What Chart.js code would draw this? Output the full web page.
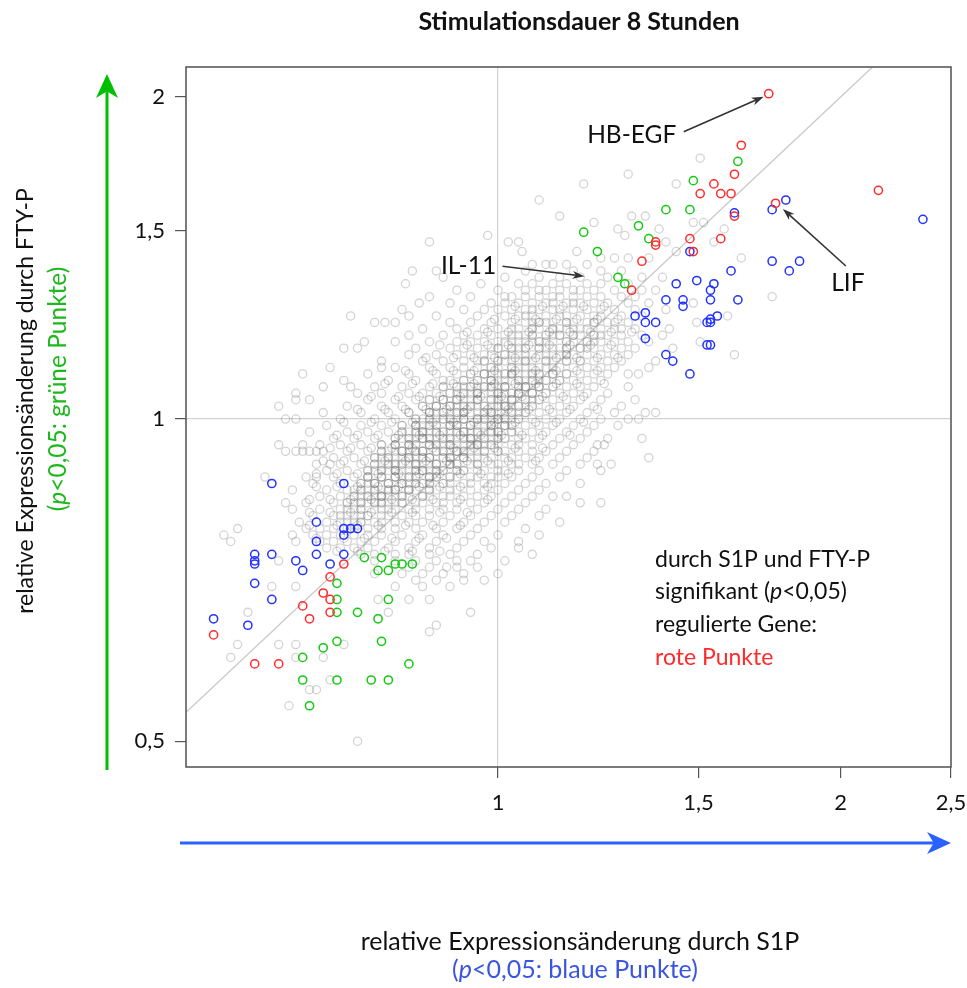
<!DOCTYPE html>
<html>
<head>
<meta charset="utf-8">
<script src="https://cdn.jsdelivr.net/npm/chart.js@4.4.0/dist/chart.umd.min.js"></script>
<style>
  html, body { margin: 0; padding: 0; background: #fff; }
</style>
</head>
<body>
<canvas id="plot" width="967" height="988"></canvas>
<script>
'use strict';

// all values are log2 ratios
var xTicks = [1, 1.5, 2, 2.5];
var yTicks = [0.5, 1, 1.5, 2];
var identityLine = [0.45, 2.7];

var redLog2X = [0.79, 0.71, 0.69, 0.63, 0.59, 0.65, 0.68, 1.11, 0.81, 0.69, 0.46, 0.46, 0.56, 0.65, 0.57, 0.42, 0.39,
  -0.45, -0.49, -0.51, -0.49, -0.57, -0.49, -0.55, -0.83, -0.71, -0.64];
var redLog2Y = [1.01, 0.85, 0.76, 0.73, 0.70, 0.70, 0.70, 0.71, 0.67, 0.63, 0.55, 0.54, 0.56, 0.56, 0.52, 0.49, 0.40,
  -0.45, -0.49, -0.54, -0.56, -0.58, -0.60, -0.62, -0.67, -0.76, -0.76];

var greenLog2X = [0.70, 0.57, 0.49, 0.56, 0.41, 0.25, 0.44, 0.29, 0.35, 0.37,
  -0.39, -0.34, -0.35, -0.32, -0.30, -0.28, -0.25, -0.47, -0.47, -0.32, -0.47, -0.41, -0.35, -0.47, -0.51, -0.34,
  -0.57, -0.26, -0.57, -0.47, -0.37, -0.32, -0.55];
var greenLog2Y = [0.80, 0.74, 0.65, 0.65, 0.60, 0.58, 0.56, 0.52, 0.44, 0.42,
  -0.43, -0.43, -0.47, -0.47, -0.45, -0.45, -0.45, -0.51, -0.56, -0.56, -0.60, -0.60, -0.62, -0.69, -0.71, -0.69,
  -0.74, -0.76, -0.81, -0.81, -0.81, -0.81, -0.89];

var blueLog2X = [0.84, 0.80, 1.24, 0.69, 0.56, 0.80, 0.88, 0.85, 0.68, 0.52, 0.58, 0.63, 0.62, 0.49, 0.54, 0.54,
  0.62, 0.70, 0.43, 0.40, 0.43, 0.46, 0.64, 0.62, 0.61, 0.62, 0.43, 0.61, 0.62, 0.49, 0.51, 0.56,
  -0.66, -0.45, -0.53, -0.45, -0.43, -0.41, -0.45, -0.53, -0.71, -0.66, -0.71, -0.71, -0.59, -0.53, -0.45, -0.57,
  -0.49, -0.71, -0.66, -0.83, -0.73];
var blueLog2Y = [0.68, 0.65, 0.62, 0.64, 0.52, 0.49, 0.49, 0.46, 0.46, 0.42, 0.43, 0.42, 0.40, 0.37, 0.37, 0.35,
  0.37, 0.37, 0.33, 0.32, 0.30, 0.30, 0.32, 0.31, 0.30, 0.30, 0.25, 0.23, 0.23, 0.20, 0.18, 0.14,
  -0.20, -0.20, -0.32, -0.34, -0.34, -0.34, -0.36, -0.38, -0.42, -0.42, -0.44, -0.45, -0.44, -0.42, -0.42, -0.47,
  -0.45, -0.51, -0.56, -0.62, -0.64];

// grey genes (not significant), one row per log2 y level
var greyRowY = [0.81, 0.76, 0.73, 0.68, 0.63, 0.61, 0.59, 0.57, 0.55, 0.52, 0.50, 0.48, 0.46, 0.44, 0.42, 0.40,
  0.38, 0.36, 0.34, 0.32, 0.30, 0.28, 0.26, 0.24, 0.22, 0.20, 0.18, 0.16, 0.14, 0.12, 0.10, 0.08, 0.06, 0.04,
  0.02, 0.00, -0.02, -0.04, -0.06, -0.08, -0.10, -0.12, -0.14, -0.16, -0.18, -0.20, -0.22, -0.24, -0.26, -0.28,
  -0.30, -0.32, -0.34, -0.36, -0.38, -0.40, -0.42, -0.44, -0.46, -0.48, -0.50, -0.52, -0.56, -0.60, -0.64, -0.66,
  -0.70, -0.74, -0.81, -0.84, -0.89, -1.00];
var greyRowX = [
  [0.59],
  [0.38],
  [0.25, 0.52],
  [0.12],
  [0.18, 0.39, 0.43],
  [0.28, 0.57, 0.60],
  [0.35, 0.47, 0.66],
  [-0.03, 0.37],
  [-0.20, 0.03, 0.06, 0.49, 0.63],
  [0.07, 0.23, 0.52],
  [0.30, 0.34, 0.38, 0.44, 0.71],
  [0.10, 0.14, 0.16, 0.20, 0.26],
  [-0.25, -0.18, 0.08, 0.22, 0.30, 0.36],
  [-0.16, 0.02, 0.12, 0.18, 0.24, 0.32, 0.42, 0.48],
  [-0.27, -0.05, 0.06, 0.10, 0.16, 0.20, 0.26, 0.30, 0.38, 0.63],
  [-0.12, 0.00, 0.08, 0.12, 0.14, 0.18, 0.22, 0.24, 0.28, 0.34, 0.42, 0.46],
  [-0.20, -0.08, 0.02, 0.04, 0.08, 0.12, 0.16, 0.18, 0.22, 0.26, 0.30, 0.36, 0.40, 0.80],
  [-0.23, -0.14, -0.02, 0.02, 0.06, 0.10, 0.14, 0.16, 0.20, 0.22, 0.24, 0.28, 0.32, 0.38, 0.44, 0.57],
  [-0.28, -0.10, -0.04, 0.00, 0.04, 0.08, 0.10, 0.12, 0.16, 0.18, 0.22, 0.26, 0.30, 0.34, 0.40, 0.49],
  [-0.43, -0.26, -0.18, -0.06, 0.02, 0.06, 0.08, 0.10, 0.14, 0.18, 0.20, 0.24, 0.28, 0.30, 0.36, 0.42, 0.67],
  [-0.36, -0.33, -0.30, -0.14, -0.08, -0.02, 0.04, 0.08, 0.10, 0.12, 0.14, 0.16, 0.20, 0.22, 0.26, 0.28, 0.32, 0.34, 0.38, 0.46, 0.58],
  [-0.22, -0.12, -0.04, 0.00, 0.04, 0.06, 0.10, 0.12, 0.16, 0.18, 0.20, 0.24, 0.26, 0.30, 0.34, 0.36, 0.40, 0.50],
  [-0.26, -0.16, -0.10, -0.06, -0.02, 0.02, 0.06, 0.08, 0.10, 0.14, 0.16, 0.18, 0.22, 0.24, 0.28, 0.30, 0.32, 0.36, 0.42, 0.48],
  [-0.39, -0.30, -0.20, -0.12, -0.08, -0.04, 0.00, 0.02, 0.04, 0.08, 0.10, 0.12, 0.14, 0.16, 0.20, 0.22, 0.26, 0.28, 0.30, 0.34, 0.38, 0.44, 0.59],
  [-0.45, -0.41, -0.24, -0.14, -0.10, -0.06, -0.02, 0.00, 0.04, 0.06, 0.08, 0.12, 0.14, 0.18, 0.20, 0.24, 0.26, 0.28, 0.32, 0.36, 0.40, 0.51],
  [-0.26, -0.18, -0.12, -0.08, -0.04, -0.02, 0.02, 0.04, 0.06, 0.10, 0.12, 0.16, 0.18, 0.20, 0.22, 0.26, 0.30, 0.34, 0.38, 0.69],
  [-0.34, -0.22, -0.16, -0.10, -0.06, -0.04, 0.00, 0.02, 0.06, 0.08, 0.10, 0.14, 0.16, 0.20, 0.24, 0.28, 0.32, 0.36, 0.46],
  [-0.49, -0.34, -0.30, -0.20, -0.14, -0.10, -0.06, -0.02, 0.00, 0.04, 0.06, 0.08, 0.12, 0.14, 0.18, 0.22, 0.26, 0.30, 0.34, 0.44],
  [-0.57, -0.38, -0.26, -0.18, -0.12, -0.08, -0.04, -0.02, 0.02, 0.04, 0.06, 0.10, 0.12, 0.16, 0.20, 0.24, 0.28, 0.32, 0.38, 0.41],
  [-0.45, -0.32, -0.24, -0.16, -0.14, -0.10, -0.06, -0.02, 0.00, 0.04, 0.08, 0.10, 0.14, 0.18, 0.22, 0.26, 0.30],
  [-0.51, -0.43, -0.36, -0.28, -0.20, -0.16, -0.12, -0.08, -0.04, -0.02, 0.02, 0.06, 0.08, 0.12, 0.16, 0.20, 0.24, 0.28, 0.38],
  [-0.59, -0.41, -0.34, -0.26, -0.22, -0.18, -0.14, -0.10, -0.06, -0.04, 0.00, 0.04, 0.06, 0.10, 0.14, 0.18, 0.22, 0.26, 0.32],
  [-0.59, -0.55, -0.38, -0.30, -0.24, -0.20, -0.16, -0.12, -0.08, -0.06, -0.02, 0.02, 0.04, 0.08, 0.12, 0.16, 0.20, 0.24, 0.30, 0.40],
  [-0.64, -0.44, -0.34, -0.28, -0.22, -0.18, -0.14, -0.10, -0.08, -0.04, 0.00, 0.02, 0.06, 0.10, 0.14, 0.18, 0.22, 0.28, 0.36],
  [-0.51, -0.40, -0.32, -0.26, -0.20, -0.16, -0.12, -0.10, -0.06, -0.02, 0.00, 0.04, 0.08, 0.12, 0.16, 0.20, 0.26, 0.34, 0.43, 0.46],
  [-0.62, -0.59, -0.46, -0.36, -0.30, -0.24, -0.20, -0.16, -0.14, -0.10, -0.06, -0.04, 0.00, 0.02, 0.06, 0.10, 0.14, 0.18, 0.24, 0.30, 0.38, 0.41],
  [-0.50, -0.40, -0.34, -0.28, -0.24, -0.20, -0.18, -0.14, -0.12, -0.08, -0.04, -0.02, 0.02, 0.04, 0.08, 0.12, 0.16, 0.22, 0.28, 0.35],
  [-0.55, -0.44, -0.38, -0.32, -0.28, -0.24, -0.22, -0.18, -0.16, -0.12, -0.10, -0.06, -0.02, 0.00, 0.04, 0.06, 0.10, 0.14, 0.20, 0.26],
  [-0.48, -0.42, -0.36, -0.30, -0.26, -0.22, -0.20, -0.16, -0.14, -0.10, -0.08, -0.04, 0.00, 0.02, 0.06, 0.08, 0.12, 0.18, 0.24, 0.32, 0.42],
  [-0.64, -0.57, -0.52, -0.46, -0.40, -0.34, -0.30, -0.26, -0.24, -0.20, -0.18, -0.14, -0.12, -0.08, -0.06, -0.02, 0.00, 0.04, 0.06, 0.10, 0.16, 0.22, 0.29, 0.31],
  [-0.62, -0.59, -0.57, -0.55, -0.53, -0.51, -0.44, -0.38, -0.34, -0.30, -0.28, -0.24, -0.22, -0.18, -0.16, -0.12, -0.10, -0.06, -0.04, 0.00, 0.02, 0.06, 0.10, 0.14, 0.20, 0.28],
  [-0.48, -0.42, -0.36, -0.32, -0.28, -0.26, -0.22, -0.20, -0.16, -0.14, -0.10, -0.08, -0.04, -0.02, 0.02, 0.04, 0.08, 0.12, 0.18, 0.26, 0.44],
  [-0.53, -0.49, -0.46, -0.40, -0.36, -0.32, -0.30, -0.26, -0.24, -0.20, -0.18, -0.14, -0.12, -0.08, -0.06, -0.02, 0.00, 0.04, 0.06, 0.10, 0.16, 0.24, 0.29, 0.33],
  [-0.50, -0.44, -0.38, -0.34, -0.30, -0.28, -0.24, -0.22, -0.18, -0.16, -0.12, -0.10, -0.06, -0.04, 0.00, 0.02, 0.06, 0.12, 0.20, 0.30],
  [-0.68, -0.56, -0.53, -0.48, -0.42, -0.38, -0.34, -0.30, -0.26, -0.24, -0.20, -0.18, -0.14, -0.12, -0.08, -0.06, -0.02, 0.00, 0.04, 0.10, 0.18],
  [-0.54, -0.46, -0.40, -0.36, -0.32, -0.28, -0.26, -0.22, -0.20, -0.16, -0.14, -0.10, -0.08, -0.04, -0.02, 0.02, 0.08, 0.14, 0.24],
  [-0.60, -0.50, -0.44, -0.40, -0.36, -0.32, -0.30, -0.26, -0.24, -0.20, -0.18, -0.14, -0.12, -0.08, -0.04, 0.00, 0.06, 0.12],
  [-0.52, -0.46, -0.42, -0.38, -0.34, -0.32, -0.28, -0.26, -0.22, -0.20, -0.16, -0.14, -0.10, -0.06, -0.02, 0.04, 0.10, 0.16, 0.20],
  [-0.62, -0.56, -0.48, -0.44, -0.40, -0.36, -0.34, -0.30, -0.28, -0.24, -0.22, -0.18, -0.16, -0.12, -0.08, -0.04, 0.02, 0.08, 0.24, 0.30],
  [-0.60, -0.52, -0.46, -0.42, -0.40, -0.36, -0.32, -0.30, -0.26, -0.24, -0.20, -0.16, -0.12, -0.06, 0.00, 0.06, 0.14],
  [-0.54, -0.48, -0.44, -0.40, -0.38, -0.34, -0.32, -0.28, -0.24, -0.20, -0.14, -0.08, -0.02, 0.04, 0.12],
  [-0.58, -0.50, -0.46, -0.42, -0.40, -0.36, -0.34, -0.30, -0.26, -0.22, -0.16, -0.10, -0.04, 0.02, 0.18],
  [-0.76, -0.56, -0.52, -0.48, -0.44, -0.42, -0.38, -0.34, -0.30, -0.24, -0.18, -0.12, -0.06, 0.08],
  [-0.80, -0.60, -0.54, -0.50, -0.46, -0.42, -0.38, -0.34, -0.28, -0.22, -0.16, -0.08, 0.00, 0.12],
  [-0.78, -0.59, -0.52, -0.48, -0.44, -0.40, -0.36, -0.30, -0.24, -0.18, -0.10, -0.04, 0.06],
  [-0.50, -0.46, -0.42, -0.38, -0.32, -0.26, -0.20, -0.12, -0.02, 0.06],
  [-0.40, -0.36, -0.30, -0.26, -0.20, -0.14, -0.06, 0.10],
  [-0.64, -0.36, -0.30, -0.24, -0.18, -0.12, -0.08, 0.02],
  [-0.26, -0.20, -0.15, -0.12, -0.06],
  [-0.36, -0.28, -0.22, -0.16, -0.10, 0.00],
  [-0.24, -0.18, -0.10, -0.04],
  [-0.66, -0.59, -0.30, -0.22, -0.14],
  [-0.35, -0.26, -0.20],
  [-0.73, -0.32, -0.08],
  [-0.18],
  [-0.20],
  [-0.76, -0.64, -0.59, -0.45],
  [-0.78, -0.59, -0.51],
  [-0.49],
  [-0.55, -0.53],
  [-0.61],
  [-0.41]
];

// further grey genes between those rows, filling the band of the cloud
var midRowY = [0.35, 0.31, 0.27, 0.23, 0.19, 0.15, 0.11, 0.07, 0.03, -0.01, -0.05, -0.09, -0.13, -0.17, -0.21,
  -0.25, -0.29, -0.33, -0.37, -0.41];
var midRowX = [
  [0.05, 0.13, 0.19, 0.25, 0.31],
  [-0.01, 0.05, 0.11, 0.17, 0.23, 0.29, 0.35],
  [-0.09, -0.03, 0.03, 0.09, 0.15, 0.21, 0.27, 0.33, 0.39],
  [-0.17, -0.09, -0.03, 0.03, 0.09, 0.15, 0.21, 0.27, 0.33],
  [-0.21, -0.13, -0.07, -0.01, 0.05, 0.11, 0.17, 0.23, 0.29, 0.35],
  [-0.27, -0.19, -0.13, -0.07, -0.01, 0.05, 0.11, 0.17, 0.23, 0.29],
  [-0.33, -0.25, -0.19, -0.13, -0.07, -0.01, 0.05, 0.11, 0.17, 0.23, 0.31],
  [-0.37, -0.29, -0.23, -0.17, -0.11, -0.05, 0.01, 0.07, 0.13, 0.19, 0.25],
  [-0.41, -0.33, -0.27, -0.21, -0.15, -0.09, -0.03, 0.03, 0.09, 0.15, 0.21, 0.29],
  [-0.45, -0.37, -0.31, -0.25, -0.19, -0.13, -0.07, -0.01, 0.05, 0.11, 0.17, 0.25],
  [-0.47, -0.41, -0.35, -0.29, -0.23, -0.17, -0.11, -0.05, 0.01, 0.07, 0.13, 0.21],
  [-0.49, -0.43, -0.37, -0.31, -0.25, -0.19, -0.13, -0.07, -0.01, 0.05, 0.13],
  [-0.51, -0.45, -0.39, -0.33, -0.27, -0.21, -0.15, -0.09, -0.03, 0.03, 0.11],
  [-0.53, -0.47, -0.41, -0.35, -0.29, -0.23, -0.17, -0.11, -0.05, 0.03],
  [-0.53, -0.47, -0.41, -0.35, -0.29, -0.23, -0.17, -0.11, -0.03],
  [-0.55, -0.49, -0.43, -0.37, -0.31, -0.25, -0.19, -0.11, -0.03],
  [-0.55, -0.49, -0.43, -0.37, -0.31, -0.25, -0.17, -0.09],
  [-0.55, -0.47, -0.41, -0.35, -0.27, -0.19, -0.11],
  [-0.53, -0.45, -0.39, -0.31, -0.23, -0.15],
  [-0.47, -0.41, -0.33, -0.25, -0.17]
];

// genes stacked on top of each other in the centre of the cloud
var coreRowY = [0.30, 0.28, 0.26, 0.24, 0.22, 0.20, 0.18, 0.16, 0.14, 0.12, 0.10, 0.08, 0.06, 0.04, 0.02, 0.00,
  -0.02, -0.04, -0.06, -0.08, -0.10, -0.12, -0.14, -0.16, -0.18, -0.20, -0.22, -0.24, -0.26, -0.28, -0.30, -0.32];
var coreRowX = [
  [0.12, 0.20, 0.28],
  [0.10, 0.16, 0.22],
  [0.04, 0.10, 0.14, 0.18, 0.22, 0.28],
  [0.06, 0.12, 0.20, 0.26],
  [0.00, 0.04, 0.08, 0.12, 0.16, 0.20, 0.24],
  [0.02, 0.08, 0.14, 0.20],
  [-0.04, 0.00, 0.04, 0.08, 0.14, 0.20, 0.24],
  [-0.02, 0.04, 0.10, 0.16],
  [-0.08, -0.04, 0.02, 0.04, 0.10, 0.16, 0.20],
  [-0.10, -0.02, 0.06, 0.12, 0.18],
  [-0.16, -0.12, -0.08, -0.02, 0.02, 0.08, 0.12, 0.16],
  [-0.14, -0.10, -0.06, 0.00, 0.02, 0.06, 0.10, 0.14],
  [-0.20, -0.16, -0.12, -0.06, 0.00, 0.04, 0.10, 0.12],
  [-0.22, -0.18, -0.14, -0.10, -0.04, 0.00, 0.02, 0.06, 0.10],
  [-0.26, -0.20, -0.16, -0.12, -0.10, -0.04, -0.02, 0.04, 0.08],
  [-0.24, -0.20, -0.14, -0.10, -0.06, -0.04, 0.00, 0.02, 0.06],
  [-0.28, -0.24, -0.20, -0.14, -0.12, -0.08, -0.02, 0.02, 0.04],
  [-0.28, -0.24, -0.22, -0.18, -0.12, -0.10, -0.06, -0.02, 0.00, 0.04],
  [-0.30, -0.26, -0.22, -0.20, -0.16, -0.10, -0.08, -0.04, 0.00, 0.02],
  [-0.34, -0.30, -0.26, -0.20, -0.18, -0.14, -0.08, -0.06, -0.02],
  [-0.34, -0.28, -0.24, -0.22, -0.16, -0.12, -0.10, -0.04, 0.00],
  [-0.36, -0.32, -0.26, -0.22, -0.20, -0.14, -0.10, -0.06],
  [-0.36, -0.30, -0.28, -0.24, -0.18, -0.14, -0.12, -0.06],
  [-0.38, -0.34, -0.30, -0.24, -0.22, -0.18, -0.12, -0.10],
  [-0.38, -0.34, -0.30, -0.26, -0.20, -0.18, -0.14],
  [-0.40, -0.36, -0.32, -0.28, -0.24, -0.20, -0.16],
  [-0.42, -0.38, -0.32, -0.30, -0.26, -0.20],
  [-0.42, -0.36, -0.34, -0.28, -0.22],
  [-0.44, -0.40, -0.36, -0.32, -0.28],
  [-0.44, -0.40, -0.34],
  [-0.46, -0.42, -0.38],
  [-0.44, -0.40]
];

// darkest part of the cloud, where many genes overlap
var darkRowY = [0.14, 0.12, 0.10, 0.08, 0.06, 0.04, 0.02, 0.00, -0.02, -0.04, -0.06, -0.08, -0.10, -0.12, -0.14,
  -0.16, -0.18, -0.20, -0.22, -0.24, -0.26];
var darkRowX = [
  [-0.04, 0.00, 0.04, 0.08, 0.12, 0.16],
  [-0.06, -0.02, 0.02, 0.06, 0.10, 0.14],
  [-0.10, -0.06, -0.04, 0.00, 0.02, 0.06, 0.08, 0.12],
  [-0.12, -0.08, -0.06, -0.02, 0.00, 0.04, 0.06, 0.10],
  [-0.16, -0.12, -0.10, -0.06, -0.02, 0.00, 0.04, 0.08],
  [-0.18, -0.14, -0.12, -0.08, -0.06, -0.02, 0.02, 0.04, 0.08],
  [-0.20, -0.18, -0.14, -0.10, -0.08, -0.04, -0.02, 0.02, 0.06],
  [-0.22, -0.18, -0.16, -0.12, -0.10, -0.06, -0.02, 0.00, 0.04],
  [-0.24, -0.22, -0.18, -0.14, -0.12, -0.08, -0.06, -0.02, 0.02],
  [-0.26, -0.22, -0.20, -0.16, -0.14, -0.10, -0.08, -0.04, 0.00],
  [-0.28, -0.24, -0.22, -0.18, -0.14, -0.12, -0.08, -0.06, -0.02],
  [-0.30, -0.26, -0.24, -0.20, -0.16, -0.14, -0.10, -0.06, -0.04],
  [-0.32, -0.28, -0.26, -0.22, -0.18, -0.14, -0.12, -0.08],
  [-0.34, -0.30, -0.26, -0.24, -0.20, -0.16, -0.14, -0.10],
  [-0.34, -0.32, -0.28, -0.24, -0.22, -0.18, -0.14],
  [-0.36, -0.32, -0.30, -0.26, -0.22, -0.20, -0.16],
  [-0.38, -0.34, -0.30, -0.28, -0.24, -0.20],
  [-0.38, -0.36, -0.32, -0.28, -0.24, -0.22],
  [-0.40, -0.36, -0.34, -0.30, -0.26],
  [-0.40, -0.38, -0.34, -0.30],
  [-0.42, -0.38, -0.34]
];

var geneNames = ['HB-EGF', 'IL-11', 'LIF'];
var geneLog2X = [0.79, 0.27, 0.84];
var geneLog2Y = [1.01, 0.44, 0.68];

var titleText = 'Stimulationsdauer 8 Stunden';
var FONT = 'Lato, "Open Sans", sans-serif';

function toPoints(xs, ys) {
  var pts = [];
  for (var i = 0; i < xs.length; i++) {
    pts.push({x: Math.pow(2, xs[i]), y: Math.pow(2, ys[i])});
  }
  return pts;
}

function rowsToPoints(rowY, rowX) {
  var pts = [];
  for (var i = 0; i < rowY.length; i++) {
    for (var j = 0; j < rowX[i].length; j++) {
      pts.push({x: Math.pow(2, rowX[i][j]), y: Math.pow(2, rowY[i])});
    }
  }
  return pts;
}

function drawRuns(ctx, runs, x, y, size, center) {
  var total = 0;
  for (var i = 0; i < runs.length; i++) {
    ctx.font = (runs[i][1] ? 'italic ' : '') + size + 'px ' + FONT;
    total += ctx.measureText(runs[i][0]).width;
  }
  var cx = center ? x - total / 2 : x;
  ctx.textAlign = 'left';
  for (var k = 0; k < runs.length; k++) {
    ctx.font = (runs[k][1] ? 'italic ' : '') + size + 'px ' + FONT;
    ctx.fillStyle = runs[k][2];
    ctx.fillText(runs[k][0], cx, y);
    cx += ctx.measureText(runs[k][0]).width;
  }
}

function arrow(ctx, x1, y1, x2, y2, color, width, headLen, headHalf) {
  var a = Math.atan2(y2 - y1, x2 - x1);
  var c = Math.cos(a), s = Math.sin(a);
  ctx.strokeStyle = color;
  ctx.fillStyle = color;
  ctx.lineWidth = width;
  ctx.beginPath();
  ctx.moveTo(x1, y1);
  ctx.lineTo(x2 - c * headLen * 0.7, y2 - s * headLen * 0.7);
  ctx.stroke();
  ctx.beginPath();
  ctx.moveTo(x2, y2);
  ctx.lineTo(x2 - headLen * c + headHalf * s, y2 - headLen * s - headHalf * c);
  ctx.lineTo(x2 - headLen * 0.72 * c, y2 - headLen * 0.72 * s);
  ctx.lineTo(x2 - headLen * c - headHalf * s, y2 - headLen * s + headHalf * c);
  ctx.closePath();
  ctx.fill();
}

var decorations = {
  id: 'decorations',
  afterDraw: function(chart) {
    var ctx = chart.ctx;
    var area = chart.chartArea;
    var xs = chart.scales.x;
    var ys = chart.scales.y;
    ctx.save();

    ctx.strokeStyle = '#5a5a5a';
    ctx.lineWidth = 1.6;
    ctx.strokeRect(area.left, area.top, area.right - area.left, area.bottom - area.top);

    ctx.textBaseline = 'middle';
    ctx.fillStyle = '#111';
    ctx.font = 'bold 25px ' + FONT;
    ctx.textAlign = 'center';
    ctx.fillText(titleText, 579, 22);

    // y axis title
    ctx.save();
    ctx.translate(26, 401);
    ctx.rotate(-Math.PI / 2);
    drawRuns(ctx, [['relative Expressionsänderung durch FTY-P', false, '#111']], 0, 0, 23, true);
    ctx.restore();
    ctx.save();
    ctx.translate(58, 389);
    ctx.rotate(-Math.PI / 2);
    drawRuns(ctx, [['(', false, '#1cb81c'], ['p', true, '#1cb81c'], ['<0,05: grüne Punkte)', false, '#1cb81c']], 0, 0, 24.5, true);
    ctx.restore();

    // x axis title
    drawRuns(ctx, [['relative Expressionsänderung durch S1P', false, '#111']], 580, 942, 25, true);
    drawRuns(ctx, [['(', false, '#3a55e0'], ['p', true, '#3a55e0'], ['<0,05: blaue Punkte)', false, '#3a55e0']], 575, 970, 25, true);

    // big direction arrows
    arrow(ctx, 107, 770, 107, 74, '#00bf00', 3, 24, 11);
    arrow(ctx, 180, 843, 951, 843, '#2b62ff', 3, 24, 11);

    // note on significant genes
    drawRuns(ctx, [['durch S1P und FTY-P', false, '#111']], 655, 560, 23, false);
    drawRuns(ctx, [['signifikant (', false, '#111'], ['p', true, '#111'], ['<0,05)', false, '#111']], 655, 592, 23, false);
    drawRuns(ctx, [['regulierte Gene:', false, '#111']], 655, 625, 23, false);
    drawRuns(ctx, [['rote Punkte', false, '#ff2a2a']], 655, 658, 23, false);

    // gene labels with arrows
    var tipDx = [-5, -6, -3], tipDy = [3, -1, 9];
    var fromDx = [-80, -82, 63], fromDy = [35, -10, 57];
    var textDx = [-132, -116, 65], textDy = [38, -10, 74];
    for (var i = 0; i < geneNames.length; i++) {
      var px = xs.getPixelForValue(Math.pow(2, geneLog2X[i]));
      var py = ys.getPixelForValue(Math.pow(2, geneLog2Y[i]));
      var tx = px + tipDx[i], ty = py + tipDy[i];
      arrow(ctx, tx + fromDx[i], ty + fromDy[i], tx, ty, '#333', 1.6, 12, 4);
      ctx.font = '24.5px ' + FONT;
      ctx.fillStyle = '#111';
      ctx.textAlign = 'center';
      ctx.fillText(geneNames[i], tx + textDx[i], ty + textDy[i]);
    }
    ctx.restore();
  }
};

function tickLabel(v) {
  return String(v).replace('.', ',');
}

function gridAtOne(c) {
  return c.tick && c.tick.value === 1 ? '#d2d2d2' : 'rgba(0,0,0,0)';
}

var circle = {pointStyle: 'circle', pointRadius: 4.1, pointHoverRadius: 4.1, backgroundColor: 'rgba(0,0,0,0)'};

var greyPoints = rowsToPoints(greyRowY, greyRowX)
  .concat(rowsToPoints(midRowY, midRowX))
  .concat(rowsToPoints(coreRowY, coreRowX))
  .concat(rowsToPoints(darkRowY, darkRowX));

var chart = new Chart(document.getElementById('plot'), {
  type: 'scatter',
  data: {
    datasets: [
      Object.assign({label: 'rot', data: toPoints(redLog2X, redLog2Y), borderColor: '#ff2b2b', borderWidth: 1.5}, circle),
      Object.assign({label: 'grün', data: toPoints(greenLog2X, greenLog2Y), borderColor: '#14c814', borderWidth: 1.5}, circle),
      Object.assign({label: 'blau', data: toPoints(blueLog2X, blueLog2Y), borderColor: '#2233ff', borderWidth: 1.5}, circle),
      Object.assign({label: 'grau', data: greyPoints, borderColor: 'rgba(95,95,95,0.27)', borderWidth: 1.3}, circle),
      {type: 'line', label: 'x=y', data: [{x: identityLine[0], y: identityLine[0]}, {x: identityLine[1], y: identityLine[1]}],
        borderColor: '#c8c8c8', borderWidth: 1.3, pointRadius: 0, showLine: true, fill: false}
    ]
  },
  options: {
    responsive: false,
    animation: false,
    devicePixelRatio: 1,
    layout: {padding: {left: 0, right: 16, top: 67, bottom: 0}},
    plugins: {legend: {display: false}, tooltip: {enabled: false}},
    scales: {
      x: {
        type: 'logarithmic',
        min: 0.532,
        max: 2.5,
        border: {display: false},
        grid: {color: gridAtOne, tickColor: '#555', tickLength: 11, lineWidth: 1.2},
        ticks: {autoSkip: false, maxRotation: 0, padding: 12, color: '#111', font: {family: FONT, size: 22}, callback: tickLabel},
        afterBuildTicks: function(scale) { scale.ticks = xTicks.map(function(v) { return {value: v}; }); },
        afterFit: function(scale) { scale.height = 221; scale.paddingLeft = 0; scale.paddingRight = 0; }
      },
      y: {
        type: 'logarithmic',
        min: 0.473,
        max: 2.133,
        border: {display: false},
        grid: {color: gridAtOne, tickColor: '#555', tickLength: 11, lineWidth: 1.2},
        ticks: {autoSkip: false, padding: 10, color: '#111', font: {family: FONT, size: 22}, callback: tickLabel},
        afterBuildTicks: function(scale) { scale.ticks = yTicks.map(function(v) { return {value: v}; }); },
        afterFit: function(scale) { scale.width = 186; scale.paddingTop = 0; scale.paddingBottom = 0; }
      }
    }
  },
  plugins: [decorations]
});
</script>
</body>
</html>
